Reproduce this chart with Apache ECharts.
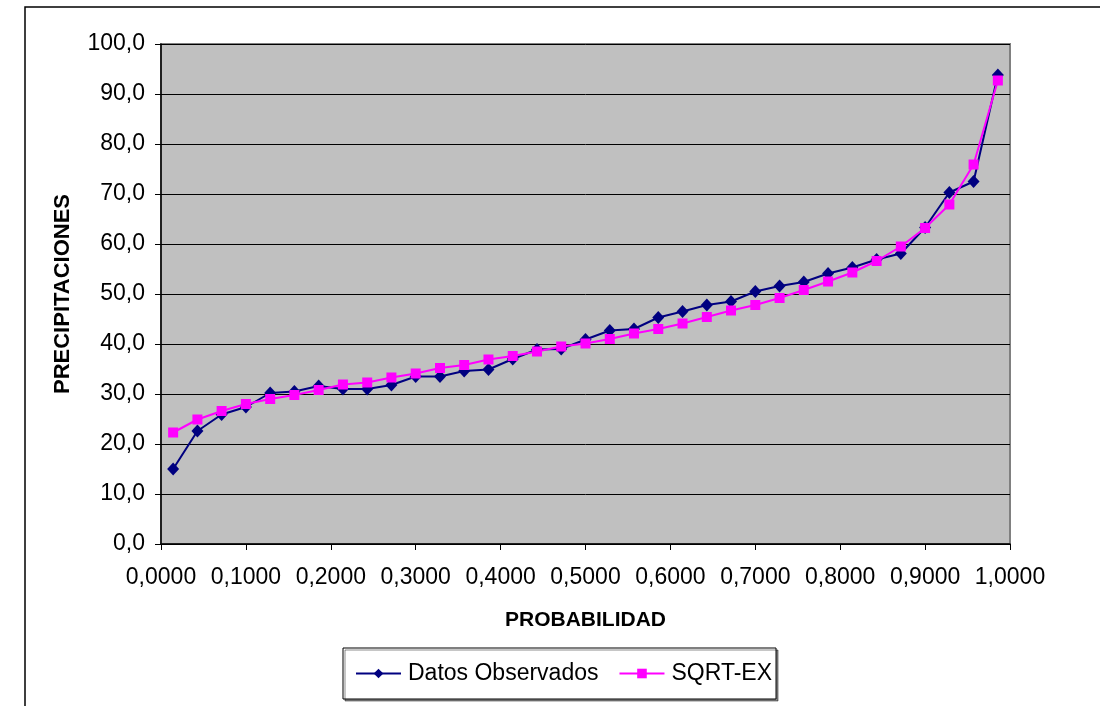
<!DOCTYPE html>
<html>
<head>
<meta charset="utf-8">
<script src="https://cdn.jsdelivr.net/npm/echarts@6/dist/echarts.min.js"></script>
<style>
html,body{margin:0;padding:0;background:#fff;}
#chart{width:1100px;height:706px;}
</style>
</head>
<body>
<div id="chart"></div>
<script>
// Probability (x) positions of the plotted points
var probabilidad = [0.0143, 0.0429, 0.0714, 0.1000, 0.1286, 0.1571, 0.1857, 0.2143, 0.2429, 0.2714,
  0.3000, 0.3286, 0.3571, 0.3857, 0.4143, 0.4429, 0.4714, 0.5000, 0.5286, 0.5571,
  0.5857, 0.6143, 0.6429, 0.6714, 0.7000, 0.7286, 0.7571, 0.7857, 0.8143, 0.8429,
  0.8714, 0.9000, 0.9286, 0.9571, 0.9857];
// Datos Observados
var datosObservados = [15.0, 22.6, 25.9, 27.4, 30.2, 30.5, 31.6, 31.0, 31.0, 31.8,
  33.5, 33.5, 34.6, 34.9, 37.0, 38.9, 39.0, 40.9, 42.7, 43.0,
  45.3, 46.5, 47.8, 48.5, 50.5, 51.6, 52.4, 54.1, 55.3, 56.9,
  58.1, 63.3, 70.3, 72.5, 93.8];
// SQRT-EX
var sqrtEx = [22.3, 24.9, 26.6, 28.0, 29.0, 29.8, 30.8, 31.9, 32.3, 33.3,
  34.1, 35.2, 35.8, 36.9, 37.6, 38.5, 39.5, 40.1, 41.0, 42.1,
  43.0, 44.1, 45.4, 46.7, 47.8, 49.2, 50.8, 52.5, 54.3, 56.6,
  59.5, 63.2, 67.9, 75.9, 92.7];
var seriesNames = ['Datos Observados', 'SQRT-EX'];
var xTitle = 'PROBABILIDAD';
var yTitle = 'PRECIPITACIONES';

function pairs(xs, ys){ return xs.map(function(x,i){ return [x, ys[i]]; }); }

var chart = echarts.init(document.getElementById('chart'), null, {renderer:'canvas'});
var font = 'Liberation Sans, Arial, sans-serif';
chart.setOption({
  animation: false,
  backgroundColor: '#ffffff',
  textStyle: {fontFamily: font},
  graphic: [{
    type: 'rect', silent: true, z: -10,
    shape: {x: 25, y: 7, width: 1200, height: 800},
    style: {fill: null, stroke: '#000', lineWidth: 1.5}
  }],
  grid: {
    left: 161, right: 90, top: 44, bottom: 162,
    show: true, backgroundColor: '#C0C0C0', borderColor: '#808080', borderWidth: 2
  },
  legend: {
    data: seriesNames,
    left: 343, top: 648,
    width: 440,
    itemWidth: 45, itemHeight: 12, itemGap: 20,
    padding: [14, 4, 14, 12],
    borderColor: '#000', borderWidth: 1,
    backgroundColor: '#fff',
    shadowColor: 'rgba(0,0,0,0.45)', shadowOffsetX: 2, shadowOffsetY: 2, shadowBlur: 0,
    textStyle: {fontSize: 23, color: '#000', fontFamily: font, padding: [0,0,0,2]}
  },
  xAxis: {
    type: 'value', min: 0, max: 1, interval: 0.1,
    name: xTitle, nameLocation: 'middle', nameGap: 66,
    nameTextStyle: {fontSize: 21, fontWeight: 'bold', color: '#000', fontFamily: font},
    axisLine: {show: true, lineStyle: {color: '#000', width: 1.5}},
    axisTick: {show: true, inside: false, length: 6, lineStyle: {color: '#000'}},
    axisLabel: {fontSize: 23, color: '#000', margin: 22, fontFamily: font,
      formatter: function(v){ return v.toFixed(4).replace('.', ','); }},
    splitLine: {show: false}
  },
  yAxis: {
    type: 'value', min: 0, max: 100, interval: 10,
    name: yTitle, nameLocation: 'middle', nameGap: 87, nameRotate: 90,
    nameTextStyle: {fontSize: 22, fontWeight: 'bold', color: '#000', fontFamily: font},
    axisLine: {show: true, lineStyle: {color: '#000', width: 1.5}},
    axisTick: {show: true, inside: false, length: 6, lineStyle: {color: '#000'}},
    axisLabel: {fontSize: 23, color: '#000', margin: 16, fontFamily: font,
      formatter: function(v){ return v.toFixed(1).replace('.', ','); }},
    splitLine: {show: true, lineStyle: {color: '#000', width: 1}}
  },
  series: [{
    name: seriesNames[0], type: 'line',
    data: pairs(probabilidad, datosObservados),
    symbol: 'diamond', symbolSize: [12, 13],
    itemStyle: {color: '#000080'},
    lineStyle: {color: '#000080', width: 2},
    z: 2
  }, {
    name: seriesNames[1], type: 'line',
    data: pairs(probabilidad, sqrtEx),
    symbol: 'rect', symbolSize: 10,
    itemStyle: {color: '#FF00FF'},
    lineStyle: {color: '#FF00FF', width: 2},
    z: 3
  }]
});
</script>
</body>
</html>
